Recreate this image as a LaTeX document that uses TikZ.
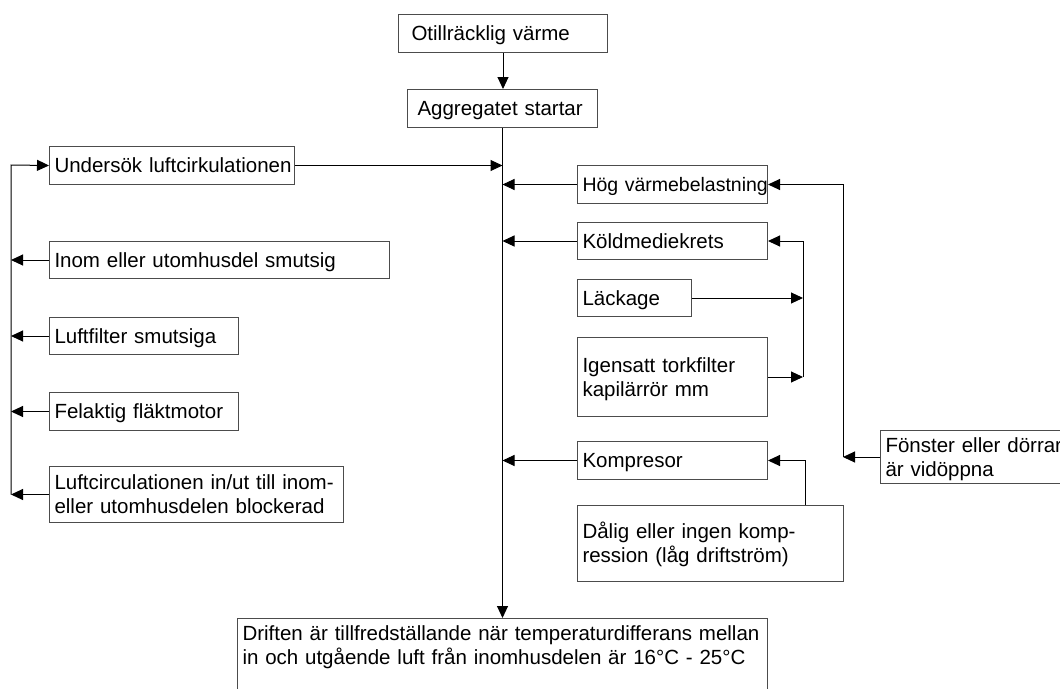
\documentclass[tikz,border=0pt]{standalone}
\usepackage{fontspec}
\setmainfont{Liberation Sans}
\usetikzlibrary{arrows.meta,positioning,calc}

\begin{document}
\begin{tikzpicture}[
  x=1pt, y=-1pt,
  font=\fontsize{20.5}{24}\selectfont,
  box/.style 2 args={draw=black!70, line width=1pt, anchor=north west, align=left,
    inner xsep=5pt, inner ysep=3pt, text height=18.5pt, text depth=4.3pt,
    text width=#1, minimum height=#2},
  two/.style={text depth=28.3pt},
  flow/.style={-{Triangle[length=12pt,width=11pt]}, line width=1pt}
]
  \path[use as bounding box, clip] (0,0) rectangle (1060,688);

  % Main chain
  \node[box={183pt}{38pt}, inner xsep=13pt] (warm) at (398,14) {Otillräcklig värme};
  \node[box={170pt}{38pt}, inner xsep=10pt] (start) at (407,89) {Aggregatet startar};
  \node[box={520pt}{30pt}, text depth=60pt] (final) at (237,618)
    {Driften är tillfredställande när temperaturdifferans mellan\\
     in och utgående luft från inomhusdelen är 16°C - 25°C};

  % Left column
  \node[box={235pt}{38pt}] (airchk) at (49,146) {\mbox{Undersök luftcirkulationen}};
  \node[box={330pt}{37pt}] (dirty) at (49,241) {Inom eller utomhusdel smutsig};
  \node[box={179pt}{37pt}] (filter) at (49,317) {Luftfilter smutsiga};
  \node[box={179pt}{38pt}] (fan) at (49,392) {Felaktig fläktmotor};
  \node[box={284pt}{56pt}, two] (blocked) at (49,466)
    {Luftcirculationen in/ut till inom-\\eller utomhusdelen blockerad};

  % Right column
  \node[box={180pt}{38pt}, font=\fontsize{19.5}{24}\selectfont] (hog) at (577,165)
    {\mbox{Hög värmebelastning}};
  \node[box={180pt}{37pt}] (kold) at (577,222) {Köldmediekrets};
  \node[box={104pt}{37pt}] (leak) at (577,279) {Läckage};
  \node[box={180pt}{79pt}, two] (clog) at (577,337) {Igensatt torkfilter\\kapilärrör mm};
  \node[box={180pt}{38pt}] (komp) at (577,441) {Kompresor};
  \node[box={256pt}{76pt}, two] (poor) at (577,505)
    {Dålig eller ingen komp-\\ression (låg driftström)};
  \node[box={180pt}{53pt}, two] (window) at (880,430) {Fönster eller dörrar\\är vidöppna};

  \coordinate (lbus) at (11,165);
  \coordinate (kbus) at (803,0);
  \coordinate (cbus) at (805,0);
  \coordinate (hbus) at (843,0);

  \draw[flow] (warm.south) -- (warm.south |- start.north);
  \draw[flow] (start.south) -- (start.south |- final.north);

  \draw[flow] (lbus |- blocked.west) -- (lbus) -- (airchk.west);
  \foreach \n in {dirty,filter,fan,blocked}
    \draw[flow] (\n.west) -- (\n.west -| lbus);
  \draw[flow] (airchk.east) -- (airchk.east -| start.south);

  \foreach \n in {hog,kold,komp}
    \draw[flow] (\n.west) -- (\n.west -| start.south);

  \draw[flow] (leak.east) -- (leak.east -| kbus);
  \draw[flow] (clog.east) -- (clog.east -| kbus);
  \draw[flow] (clog.east -| kbus) -- (kold.east -| kbus) -- (kold.east);

  \draw[flow] (window.west) -- (window.west -| hbus);
  \draw[flow] (window.west -| hbus) -- (hog.east -| hbus) -- (hog.east);

  \draw[flow] (poor.north -| cbus) -- (komp.east -| cbus) -- (komp.east);
\end{tikzpicture}
\end{document}
